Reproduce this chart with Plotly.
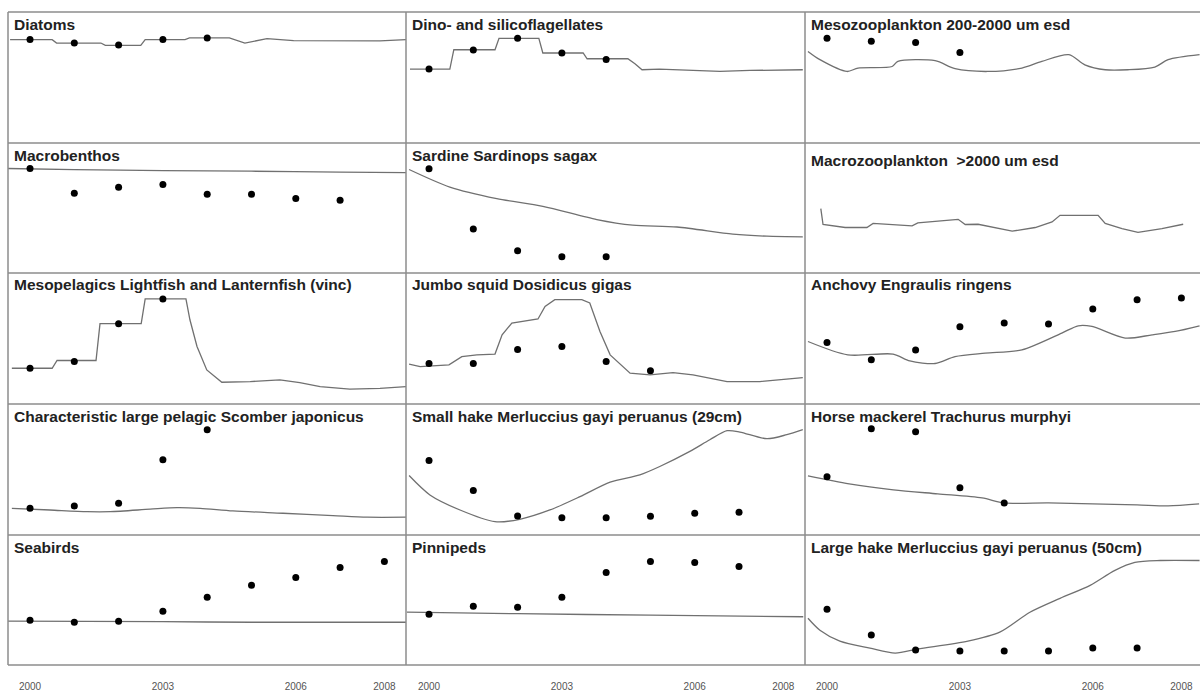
import plotly.graph_objects as go

# ---------------- data (values = relative height within each panel, 0 bottom .. 100 top)
years = [2000, 2001, 2002, 2003, 2004, 2005, 2006, 2007, 2008]
tick_years = [2000, 2003, 2006, 2008]
tick_text = ["2000", "2003", "2006", "2008"]

titles = [
    "Diatoms", "Dino- and silicoflagellates", "Mesozooplankton 200-2000 um esd",
    "Macrobenthos", "Sardine Sardinops sagax", "Macrozooplankton \u00a0>2000 um esd",
    "Mesopelagics Lightfish and Lanternfish (vinc)", "Jumbo squid Dosidicus gigas", "Anchovy Engraulis ringens",
    "Characteristic large pelagic Scomber japonicus", "Small hake Merluccius gayi peruanus (29cm)",
    "Horse mackerel Trachurus murphyi",
    "Seabirds", "Pinnipeds", "Large hake Merluccius gayi peruanus (50cm)",
]

# observed points (one per year starting 2000)
diatoms_obs = [79.1, 76.3, 74.8, 79.1, 80.2]
dino_obs = [56.4, 71.0, 79.9, 68.7, 63.8]
mesozoo_obs = [79.9, 77.6, 76.8, 69.1]
macrobenthos_obs = [80.4, 61.3, 65.9, 68.1, 60.5, 60.5, 57.4, 55.9]
sardine_obs = [80.2, 33.9, 17.1, 12.5, 12.5]
macrozoo_obs = []
mesopelagic_obs = [27.3, 32.4, 61.3, 80.2]
squid_obs = [30.9, 30.9, 41.6, 43.9, 32.4, 25.3]
anchovy_obs = [46.9, 33.7, 41.3, 59.0, 61.8, 61.0, 72.5, 79.6, 80.9]
scomber_obs = [20.4, 22.2, 24.3, 57.4, 80.4]
smallhake_obs = [56.9, 33.9, 14.5, 13.2, 13.2, 14.3, 16.6, 17.4]
horsemack_obs = [44.4, 81.2, 78.9, 36.0, 24.5]
seabirds_obs = [34.5, 32.9, 33.7, 41.3, 52.1, 61.3, 67.4, 75.0, 79.6]
pinnipeds_obs = [39.1, 45.2, 44.4, 52.1, 71.2, 79.6, 78.9, 75.8]
largehake_obs = [42.9, 23.0, 11.5, 10.7, 10.7, 10.7, 13.0, 13.0]

# model lines
diatoms_t = [1999.55, 2000.5, 2000.6, 2001.6, 2001.7, 2002.5, 2002.6, 2003.5, 2003.6, 2004.5,
             2004.85, 2005.35, 2005.95, 2007.45, 2007.9, 2008.5]
diatoms_m = [78.9, 78.9, 76.3, 76.3, 74.5, 74.5, 78.9, 78.9, 80.2, 80.2,
             76.3, 79.6, 78.1, 78.1, 77.9, 78.9]
dino_t = [1999.57, 2000.47, 2000.56, 2001.49, 2001.58, 2002.48, 2002.57, 2003.48, 2003.57, 2004.49,
          2004.65, 2004.81, 2005.2, 2005.89, 2006.57, 2007.25, 2007.92, 2008.44]
dino_m = [56.4, 56.4, 71.2, 71.2, 79.9, 79.9, 68.7, 68.7, 64.3, 64.3,
          60.5, 55.9, 56.4, 55.4, 54.6, 55.4, 55.9, 55.9]
mesozoo_t = [1999.57, 1999.84, 2000.45, 2000.7, 2001.47, 2001.6, 2002.44, 2002.89, 2003.63, 2004.4,
             2004.85, 2005.46, 2005.82, 2006.28, 2006.79, 2007.4, 2007.7, 2008.41]
mesozoo_m = [69.9, 63.6, 54.6, 57.2, 58.4, 62.3, 62.8, 56.7, 54.6, 57.2,
             62.3, 67.4, 59.7, 55.9, 55.9, 58.0, 63.6, 67.4]
macrobenthos_t = [1999.5, 2001.0, 2003.0, 2005.0, 2007.0, 2008.5]
macrobenthos_m = [80.4, 79.5, 78.8, 78.3, 77.6, 77.2]
sardine_t = [1999.55, 2000.47, 2001.53, 2002.57, 2003.79, 2004.6, 2005.6, 2006.86, 2007.63, 2008.44]
sardine_m = [79.6, 66.1, 57.2, 51.3, 41.1, 36.8, 35.4, 29.9, 28.3, 27.8]
macrozoo_t = [1999.86, 1999.91, 2000.41, 2000.9, 2001.04, 2001.92, 2002.05, 2002.96, 2003.12, 2003.41,
              2004.18, 2004.7, 2005.08, 2005.26, 2006.12, 2006.28, 2006.66, 2007.02, 2007.56, 2008.04]
macrozoo_m = [49.5, 37.3, 35.0, 35.0, 38.1, 36.2, 38.5, 41.3, 37.3, 37.5,
              32.2, 35.0, 39.3, 44.4, 44.4, 38.1, 34.2, 31.2, 34.2, 37.5]
mesopelagic_t = [1999.59, 2000.5, 2000.61, 2001.49, 2001.58, 2002.51, 2002.6, 2003.52, 2003.61, 2003.77,
                 2003.99, 2004.33, 2004.97, 2005.64, 2006.09, 2006.55, 2007.22, 2007.9, 2008.49]
mesopelagic_m = [27.3, 27.3, 33.2, 33.2, 61.3, 61.3, 80.2, 80.2, 64.3, 43.9,
                 26.0, 16.6, 17.1, 18.4, 16.3, 13.2, 11.3, 12.0, 13.2]
squid_t = [1999.55, 1999.8, 2000.45, 2000.74, 2001.08, 2001.49, 2001.65, 2001.87, 2002.46, 2002.62,
           2002.84, 2003.45, 2003.63, 2003.86, 2004.09, 2004.54, 2004.99, 2005.51, 2005.96, 2006.73,
           2007.47, 2008.44]
squid_m = [30.4, 28.6, 29.9, 36.2, 37.5, 38.1, 52.8, 61.8, 64.9, 74.5,
           79.6, 79.6, 77.1, 55.4, 37.5, 23.5, 22.2, 24.0, 22.2, 17.1,
           17.1, 20.1]
anchovy_t = [1999.57, 2000.47, 2001.49, 2001.87, 2002.44, 2002.89, 2003.57, 2004.4, 2005.3, 2005.67,
             2005.98, 2006.73, 2007.34, 2007.86, 2008.41]
anchovy_m = [47.7, 37.5, 38.1, 32.9, 30.9, 36.2, 38.8, 41.3, 54.1, 59.7,
             59.2, 50.3, 52.8, 55.4, 59.7]
scomber_t = [1999.59, 2000.45, 2001.29, 2001.81, 2002.71, 2003.32, 2003.84, 2004.58, 2005.71, 2006.84,
             2007.61, 2008.49]
scomber_m = [20.4, 19.1, 17.8, 17.8, 19.7, 20.9, 20.4, 18.4, 16.6, 14.8,
             13.6, 13.6]
smallhake_t = [1999.55, 2000.02, 2000.7, 2001.49, 2002.05, 2002.73, 2003.41, 2004.09, 2004.76, 2005.21,
               2005.89, 2006.34, 2006.73, 2007.02, 2007.63, 2008.08, 2008.44]
smallhake_m = [45.4, 30.6, 19.1, 10.2, 12.0, 19.1, 29.3, 40.4, 45.9, 52.3,
               63.8, 72.7, 79.6, 78.6, 73.5, 76.6, 80.4]
horsemack_t = [1999.57, 2000.5, 2001.5, 2002.5, 2003.5, 2004.0, 2005.0, 2006.0, 2007.0, 2007.7, 2008.4]
horsemack_m = [45.2, 39.1, 34.5, 31.4, 28.3, 24.5, 24.5, 23.7, 23.0, 22.2, 23.7]
seabirds_t = [1999.5, 2003.0, 2005.0, 2008.5]
seabirds_m = [33.7, 33.3, 32.9, 32.9]
pinnipeds_t = [1999.5, 2002.0, 2005.0, 2008.45]
pinnipeds_m = [40.6, 39.5, 38.3, 37.1]
largehake_t = [1999.57, 1999.84, 2000.29, 2000.97, 2001.54, 2002.05, 2003.18, 2003.9, 2004.58, 2005.26,
               2005.94, 2006.5, 2006.95, 2007.52, 2008.41]
largehake_m = [36.0, 26.8, 18.4, 13.0, 9.2, 12.3, 18.4, 25.3, 40.6, 51.3,
               61.3, 72.8, 78.9, 80.4, 80.4]

panel_obs = [diatoms_obs, dino_obs, mesozoo_obs,
             macrobenthos_obs, sardine_obs, macrozoo_obs,
             mesopelagic_obs, squid_obs, anchovy_obs,
             scomber_obs, smallhake_obs, horsemack_obs,
             seabirds_obs, pinnipeds_obs, largehake_obs]
panel_model = [(diatoms_t, diatoms_m), (dino_t, dino_m), (mesozoo_t, mesozoo_m),
               (macrobenthos_t, macrobenthos_m), (sardine_t, sardine_m), (macrozoo_t, macrozoo_m),
               (mesopelagic_t, mesopelagic_m), (squid_t, squid_m), (anchovy_t, anchovy_m),
               (scomber_t, scomber_m), (smallhake_t, smallhake_m), (horsemack_t, horsemack_m),
               (seabirds_t, seabirds_m), (pinnipeds_t, pinnipeds_m), (largehake_t, largehake_m)]

# smooth (spline) drawing for the curved model outputs, straight segments for stepped ones
smooth_panels = {2, 3, 4, 8, 9, 10, 11, 12, 13, 14}

# ---------------- layout geometry (pixels)
W, H = 1200, 693
col_edges = [8, 406, 805, 1200]
row_edges = [12, 143, 273, 404, 535, 665]
x_ranges = [[1999.503, 2008.488], [1999.48, 2008.49], [1999.503, 2008.42]]
title_offset = [12] * 15
title_offset[5] = 17

LINE_COLOR = "#707070"
BORDER = "#8c8c8c"
FONT = "Liberation Sans, Arial, sans-serif"

fig = go.Figure()
layout = dict(
    width=W, height=H, margin=dict(l=0, r=0, t=0, b=0),
    paper_bgcolor="white", plot_bgcolor="white", showlegend=False,
    font=dict(family=FONT, color="#222"),
)
annotations = []
shapes = []

for i in range(15):
    r, c = divmod(i, 3)
    n = "" if i == 0 else str(i + 1)
    xa, ya = "x" + n, "y" + n
    t, m = panel_model[i]
    if i in smooth_panels:
        ln = dict(color=LINE_COLOR, width=1.3, shape="spline", smoothing=0.8)
    else:
        ln = dict(color=LINE_COLOR, width=1.3)
    fig.add_trace(go.Scatter(x=t, y=m, mode="lines", xaxis=xa, yaxis=ya,
                             line=ln, hoverinfo="skip"))
    obs = panel_obs[i]
    if obs:
        fig.add_trace(go.Scatter(x=years[:len(obs)], y=obs, mode="markers", xaxis=xa, yaxis=ya,
                                 marker=dict(color="black", size=7)))
    bottom = (r == 4)
    layout["xaxis" + n] = dict(
        domain=[col_edges[c] / W, col_edges[c + 1] / W],
        anchor=ya, range=x_ranges[c], showgrid=False, zeroline=False, showline=False,
        tickvals=tick_years, ticktext=tick_text, showticklabels=bottom, ticks="",
        ticklabelstandoff=14,
        tickfont=dict(family=FONT, size=10, color="#555"),
    )
    layout["yaxis" + n] = dict(
        domain=[1 - row_edges[r + 1] / H, 1 - row_edges[r] / H],
        anchor=xa, range=[0, 100], showgrid=False, zeroline=False, showline=False,
        showticklabels=False, ticks="",
    )
    annotations.append(dict(
        text=titles[i], xref="paper", yref="paper",
        x=(col_edges[c] + 3.5) / W, y=1 - (row_edges[r] + title_offset[i]) / H,
        xanchor="left", yanchor="middle", showarrow=False,
        font=dict(family=FONT, size=15.5, color="#222", weight="bold"),
    ))

for yv in row_edges:
    shapes.append(dict(type="line", xref="paper", yref="paper",
                       x0=col_edges[0] / W, x1=1, y0=1 - yv / H, y1=1 - yv / H,
                       line=dict(color=BORDER, width=1.5)))
for xv in col_edges[:3]:
    shapes.append(dict(type="line", xref="paper", yref="paper",
                       x0=xv / W, x1=xv / W, y0=1 - row_edges[0] / H, y1=1 - row_edges[-1] / H,
                       line=dict(color=BORDER, width=1.5)))

layout["annotations"] = annotations
layout["shapes"] = shapes
fig.update_layout(**layout)
fig.write_html("out.html")
